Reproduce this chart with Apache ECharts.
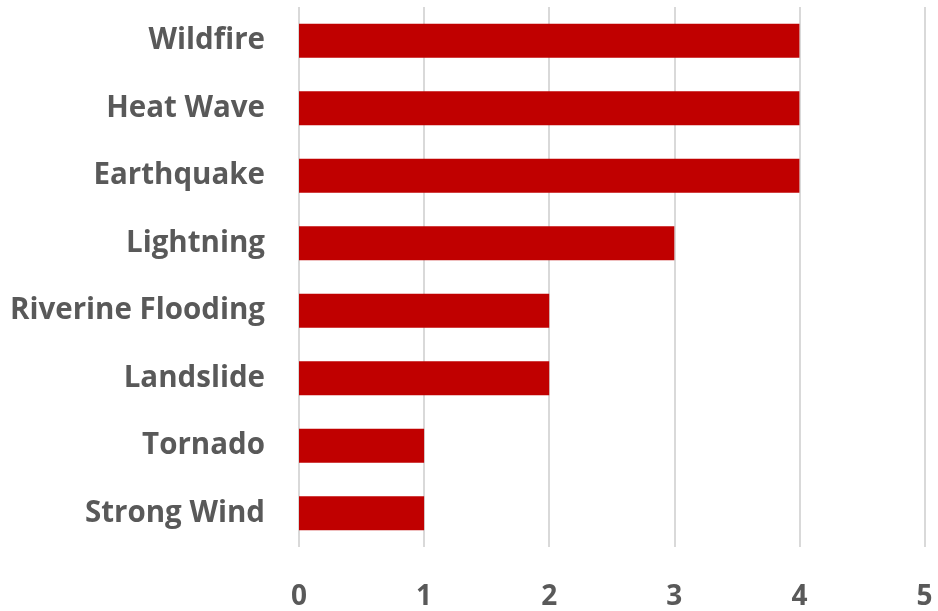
<!DOCTYPE html>
<html>
<head>
<meta charset="utf-8">
<script src="https://cdn.jsdelivr.net/npm/echarts@6/dist/echarts.min.js"></script>
<style>
  html, body { margin: 0; padding: 0; background: #fff; }
  #chart { width: 938px; height: 611px; }
</style>
</head>
<body>
<div id="chart"></div>
<script>
// Hazard categories, listed bottom-to-top as the category axis draws them
const hazards = ['Strong Wind', 'Tornado', 'Landslide', 'Riverine Flooding', 'Lightning', 'Earthquake', 'Heat Wave', 'Wildfire'];
const counts = [1, 1, 2, 2, 3, 4, 4, 4];
const xTicks = [0, 1, 2, 3, 4, 5];

const labelFont = '"Open Sans", Lato, "Liberation Sans", sans-serif';
const chart = echarts.init(document.getElementById('chart'));
chart.setOption({
  animation: false,
  grid: { left: 299, right: 13.5, top: 7, bottom: 63, containLabel: false },
  xAxis: {
    type: 'value',
    min: xTicks[0],
    max: xTicks[xTicks.length - 1],
    interval: 1,
    axisLine: { show: false },
    axisTick: { show: false },
    axisLabel: {
      color: '#595959', fontSize: 28, fontWeight: 'bold', fontFamily: labelFont, margin: 36
    },
    splitLine: { lineStyle: { color: '#d9d9d9', width: 2 } }
  },
  yAxis: {
    type: 'category',
    data: hazards,
    axisLine: { show: false },
    axisTick: { show: false },
    axisLabel: {
      color: '#595959', fontSize: 29.5, fontWeight: 'bold', fontFamily: labelFont, margin: 34,
      padding: [5, 0, 0, 0]
    }
  },
  series: [{
    type: 'bar',
    data: counts,
    barWidth: 34,
    itemStyle: { color: '#C00000' }
  }]
});
</script>
</body>
</html>
